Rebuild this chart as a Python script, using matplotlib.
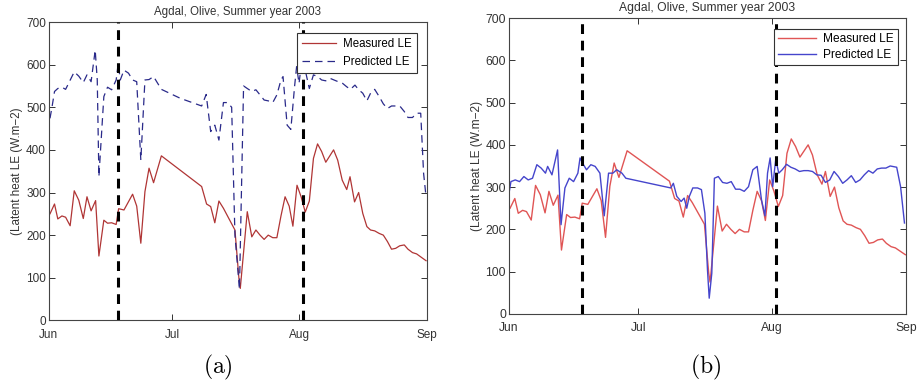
import matplotlib
matplotlib.use("Agg")
import matplotlib.pyplot as plt

plt.rcParams['font.family'] = ['Liberation Sans', 'DejaVu Sans']
plt.rcParams['mathtext.fontset'] = 'cm'

# ---------------- data (day index: 0 = 1 June 2003) ----------------
meas_days = [0.3, 1.4, 2.2, 3.2, 4.1, 5.2, 6.2, 7.3, 8.4, 9.3, 10.3, 11.4, 12.2, 13.4, 14.3,
             15.3, 16.4, 17.0, 18.3, 20.4, 21.4, 22.4, 23.4, 24.4, 25.5, 27.4, 37.2, 38.4,
             39.4, 40.4, 41.4, 42.5, 45.3, 46.3, 46.6, 48.3, 49.4, 50.4, 51.4, 52.4, 53.4,
             54.5, 55.5, 56.5, 57.5, 58.5, 59.4, 60.4, 61.4, 62.4, 63.4, 64.4, 65.4, 66.4,
             67.4, 69.3, 70.3, 71.4, 72.5, 73.3, 74.4, 75.4, 76.4, 77.4, 78.3, 79.3, 80.4,
             81.4, 82.4, 83.4, 84.4, 85.4, 86.5, 87.4, 88.5, 89.5, 90.5, 91.8]
meas_le = [250, 273, 238, 245, 242, 222, 304, 282, 239, 290, 257, 281, 151, 235, 228,
           229, 225, 262, 259, 296, 268, 181, 302, 357, 323, 386, 314, 273,
           267, 229, 280, 263, 212, 95, 75, 255, 196, 212, 200, 190, 200,
           194, 194, 245, 290, 268, 221, 317, 290, 254, 280, 380, 414, 396,
           371, 400, 376, 329, 307, 337, 278, 300, 251, 220, 212, 210, 204,
           200, 185, 167, 169, 175, 177, 167, 159, 156, 149, 140]

pred_a_days = [0.3, 0.8, 1.4, 2.2, 3.2, 4.1, 6.2, 7.3, 8.4, 9.3, 10.3, 11.3, 11.8, 12.2,
               13.4, 14.3, 15.3, 16.4, 16.9, 17.4, 18.3, 19.4, 20.4, 21.4, 22.4, 23.4, 24.4,
               25.5, 27.4, 32.0, 37.2, 38.3, 39.4, 40.4, 41.4, 42.5, 43.5, 44.5, 45.3, 46.4,
               47.4, 48.3, 49.4, 50.4, 51.4, 52.4, 53.4, 54.5, 55.5, 56.5, 57.0, 58.0, 58.9,
               59.8, 60.3, 60.9, 61.4, 62.4, 63.4, 64.4, 65.4, 66.4, 67.4, 68.4, 69.4, 70.4,
               71.5, 72.5, 73.4, 74.5, 75.4, 76.4, 77.4, 78.3, 79.3, 80.4, 81.4, 82.4, 83.4,
               84.4, 85.4, 86.5, 87.4, 88.5, 89.5, 90.5, 91.2, 91.8]
pred_a_le = [474, 501, 537, 544, 547, 542, 583, 573, 558, 576, 560, 634, 564, 337,
             525, 547, 541, 564, 603, 564, 587, 580, 564, 560, 376, 564, 565,
             572, 542, 521, 503, 530, 443, 458, 423, 511, 511, 500, 200, 73,
             550, 544, 537, 541, 529, 517, 515, 511, 529, 564, 572, 458, 448,
             548, 595, 556, 597, 587, 544, 576, 572, 564, 562, 568, 564, 560,
             556, 548, 542, 552, 541, 533, 515, 533, 542, 525, 508, 497, 503,
             503, 503, 490, 476, 476, 486, 486, 345, 290]

pred_b_days = [0.0, 0.5, 1.5, 2.5, 3.5, 4.5, 5.5, 6.5, 7.5, 8.5, 9.0, 10.0, 11.3, 12.1,
               13.0, 14.0, 15.0, 16.0, 16.5, 17.3, 18.0, 19.0, 20.0, 21.1, 22.1, 23.1, 24.1,
               25.0, 26.2, 27.1, 37.5, 38.1, 38.9, 39.9, 40.6, 41.2, 41.8, 42.6, 43.7, 44.6,
               45.4, 46.0, 46.4, 47.0, 47.6, 48.5, 49.5, 50.5, 51.5, 52.5, 53.5, 54.5, 55.5,
               56.5, 57.5, 58.5, 59.3, 59.9, 60.5, 61.1, 61.8, 62.5, 63.3, 64.3, 65.3, 66.3,
               67.3, 68.3, 69.3, 70.3, 71.3, 72.3, 73.3, 74.3, 75.3, 76.3, 77.3, 78.3, 79.3,
               80.3, 81.3, 82.3, 83.3, 84.3, 85.3, 86.3, 87.3, 88.3, 89.8, 90.7, 91.6]
pred_b_le = [282, 313, 317, 313, 325, 317, 321, 353, 345, 333, 349, 329, 388, 211,
             298, 321, 313, 333, 369, 353, 341, 353, 349, 333, 232, 333, 333,
             341, 333, 321, 298, 309, 278, 266, 274, 250, 278, 298, 298, 294,
             238, 104, 37, 96, 321, 325, 311, 309, 313, 295, 295, 290, 301,
             341, 349, 270, 232, 333, 369, 301, 366, 333, 341, 354, 347, 343,
             337, 339, 339, 337, 329, 328, 311, 317, 337, 325, 309, 317, 327,
             311, 317, 329, 339, 333, 343, 345, 345, 350, 347, 301, 215]

split_days = [16.9, 61.9]
month_ticks = [0, 30, 61, 92]
month_labels = ['Jun', 'Jul', 'Aug', 'Sep']
y_ticks = [0, 100, 200, 300, 400, 500, 600, 700]

title = 'Agdal, Olive, Summer year 2003'
ylabel = '(Latent heat LE (W.m\u22122)'

fig = plt.figure(figsize=(9.2, 3.86), dpi=100)

def style_axes(ax, fs, title_fs, ylab_fs):
    ax.set_xlim(0, 92)
    ax.set_ylim(0, 700)
    ax.set_xticks(month_ticks)
    ax.set_xticklabels(month_labels)
    ax.set_yticks(y_ticks)
    ax.tick_params(direction='in', top=True, right=True, length=4, width=0.7,
                   labelsize=fs, colors='#333333', labelcolor='#333333')
    ax.tick_params(axis='x', pad=6)
    ax.tick_params(axis='y', pad=2)
    for s in ax.spines.values():
        s.set_color('#444444')
        s.set_linewidth(0.8)
    ax.set_title(title, fontsize=title_fs, color='#333333', pad=5)
    ax.set_ylabel(ylabel, fontsize=ylab_fs, color='#333333', labelpad=2)
    for d in split_days:
        ax.axvline(d, color='black', linestyle=(0, (3.2, 2.2)), linewidth=2.2, zorder=3)

# ---- panel (a)
ax1 = fig.add_axes([0.053, 0.170, 0.411, 0.773])
ax1.plot(meas_days, meas_le, color='#b03535', linewidth=0.9, label='Measured LE')
ax1.plot(pred_a_days, pred_a_le, color='#2a2a8a', linewidth=0.9,
         linestyle=(0, (6, 4)), label='Predicted LE')
style_axes(ax1, 8.5, 8.3, 8.4)
leg1 = ax1.legend(loc='upper right', fontsize=8.3, frameon=True, fancybox=False,
                  edgecolor='#333333', framealpha=1, borderpad=0.45, handlelength=3.0,
                  labelspacing=0.5, handletextpad=0.6, bbox_to_anchor=(0.99, 0.982))
leg1.get_frame().set_linewidth(0.8)

# ---- panel (b)
ax2 = fig.add_axes([0.553, 0.187, 0.432, 0.766])
ax2.plot(meas_days, meas_le, color='#e05555', linewidth=1.0, label='Measured LE')
ax2.plot(pred_b_days, pred_b_le, color='#4545cc', linewidth=1.0, label='Predicted LE')
style_axes(ax2, 8.7, 8.7, 8.6)
leg2 = ax2.legend(loc='upper right', fontsize=8.6, frameon=True, fancybox=False,
                  edgecolor='#333333', framealpha=1, borderpad=0.35, handlelength=3.2,
                  labelspacing=0.35, handletextpad=0.6, bbox_to_anchor=(0.995, 0.985))
leg2.get_frame().set_linewidth(0.8)

fig.text(0.237, 0.048, r'$\mathrm{(a)}$', fontsize=17, ha='center', va='center')
fig.text(0.767, 0.048, r'$\mathrm{(b)}$', fontsize=17, ha='center', va='center')

fig.savefig('out.png', dpi=100)
